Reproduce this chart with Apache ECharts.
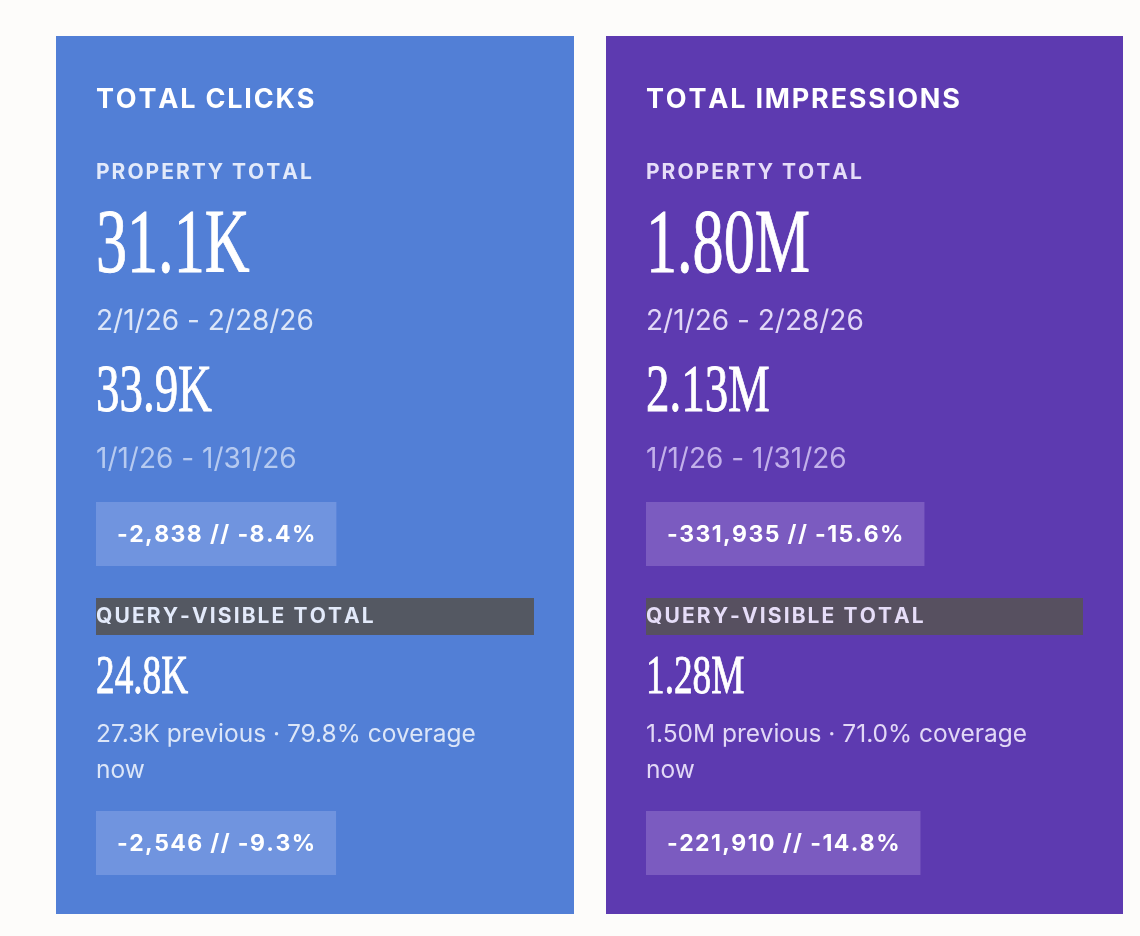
<!DOCTYPE html>
<html>
<head>
<meta charset="utf-8">
<script src="https://cdn.jsdelivr.net/npm/echarts@6/dist/echarts.min.js"></script>
<style>
  html, body { margin: 0; padding: 0; background: #fdfcfa; }
  #kpi-cards { width: 1140px; height: 936px; }
</style>
</head>
<body>
<div id="kpi-cards"></div>
<script>
// card contents, one entry per card
var cardTitles = ['TOTAL CLICKS', 'TOTAL IMPRESSIONS'];
var propertyLabel = 'PROPERTY TOTAL';
var queryLabel = 'QUERY-VISIBLE TOTAL';
var currentTotals = ['31.1K', '1.80M'];
var currentRanges = ['2/1/26 - 2/28/26', '2/1/26 - 2/28/26'];
var previousTotals = ['33.9K', '2.13M'];
var previousRanges = ['1/1/26 - 1/31/26', '1/1/26 - 1/31/26'];
var propertyDeltas = ['-2,838 // -8.4%', '-331,935 // -15.6%'];
var queryTotals = ['24.8K', '1.28M'];
var queryNotes = ['27.3K previous \u00b7 79.8% coverage now', '1.50M previous \u00b7 71.0% coverage now'];
var queryDeltas = ['-2,546 // -9.3%', '-221,910 // -14.8%'];

var themes = [
    {bg: '#527fd6', badge: '#7094df', bar: '#545862', label: '#e3eafa', soft: '#dce6f8', faded: '#b6caf0'},
    {bg: '#5d3ab0', badge: '#7b5bc0', bar: '#575060', label: '#e6ddf8', soft: '#e2d8f6', faded: '#c2b0ea'}
];

var SANS = 'Inter, "DejaVu Sans", sans-serif';
var SERIF = '"Liberation Serif", serif';

var ctx = document.createElement('canvas').getContext('2d');

// zrender has no letter-spacing, so lay the caps out char by char
function spacedChars(str, x, y, font, spacing, color){
    ctx.font = font;
    var els = [];
    var cx = 0;
    for(var i=0;i<str.length;i++){
        var ch = str.charAt(i);
        els.push({
            type: 'text', x: x + cx, y: y, silent: true,
            style: {text: ch, font: font, fill: color, textVerticalAlign: 'middle'}
        });
        cx += ctx.measureText(ch).width + spacing;
    }
    return {els: els, width: cx - spacing};
}
function spacedText(str, x, y, size, spacing, color){
    return spacedChars(str, x, y, 'bold ' + size + 'px ' + SANS, spacing, color).els;
}

function bigNumber(str, x, y, size){
    return {
        type: 'text', x: x, y: y, scaleX: 0.69, silent: true,
        style: {text: str, font: size + 'px ' + SERIF, fill: '#ffffff',
                stroke: '#ffffff', lineWidth: 0.9, textVerticalAlign: 'middle'}
    };
}

function line(str, x, y, size, color){
    return {type: 'text', x: x, y: y, silent: true,
            style: {text: str, font: size + 'px ' + SANS, fill: color, textVerticalAlign: 'middle'}};
}

// simple word wrap so the wrapped line has no leading blank
function wrapped(str, x, y, size, color, maxW, lh){
    var font = size + 'px ' + SANS;
    ctx.font = font;
    var words = str.split(' ');
    var lines = [], cur = '';
    for(var i=0;i<words.length;i++){
        var test = cur ? cur + ' ' + words[i] : words[i];
        if(cur && ctx.measureText(test).width > maxW){
            lines.push(cur);
            cur = words[i];
        }else{
            cur = test;
        }
    }
    lines.push(cur);
    return lines.map(function(l, k){ return line(l, x, y + k * lh, size, color); });
}

function badge(str, x, y, fill){
    var r = spacedChars(str, 21, 33, 'bold 23px ' + SANS, 1.4, '#ffffff');
    return {
        type: 'group', x: x, y: y,
        children: [{type: 'rect', shape: {x: 0, y: 0, width: r.width + 42, height: 64}, style: {fill: fill}, silent: true}].concat(r.els)
    };
}

var cardLeft = [56, 606];
var cardWidth = [518, 517];
var cardTop = 36, cardHeight = 878, pad = 40;

var elements = [];
for(var i=0;i<cardTitles.length;i++){
    var t = themes[i];
    var x0 = cardLeft[i] + pad;
    var inner = cardWidth[i] - pad * 2;
    elements.push({type: 'rect', shape: {x: cardLeft[i], y: cardTop, width: cardWidth[i], height: cardHeight}, style: {fill: t.bg}, silent: true});
    elements = elements.concat(spacedText(cardTitles[i], x0, 100, 27, 1.8, '#ffffff'));
    elements = elements.concat(spacedText(propertyLabel, x0, 173, 21, 2.0, t.label));
    elements.push(bigNumber(currentTotals[i], x0, 248, 90));
    elements.push(line(currentRanges[i], x0, 322, 28, t.soft));
    elements.push(bigNumber(previousTotals[i], x0, 393, 68));
    elements.push(line(previousRanges[i], x0, 460, 28, t.faded));
    elements.push(badge(propertyDeltas[i], x0, 502, t.badge));
    elements.push({type: 'rect', shape: {x: x0, y: 598, width: inner, height: 37}, style: {fill: t.bar}, silent: true});
    elements = elements.concat(spacedText(queryLabel, x0, 617, 21, 2.1, t.label));
    elements.push(bigNumber(queryTotals[i], x0, 679, 54));
    elements = elements.concat(wrapped(queryNotes[i], x0, 735, 24.5, t.soft, 420, 36));
    elements.push(badge(queryDeltas[i], x0, 811, t.badge));
}

var myChart = echarts.init(document.getElementById('kpi-cards'));
var option = {
    backgroundColor: '#fdfcfa',
    animation: false,
    graphic: {elements: elements}
};
myChart.setOption(option);
</script>
</body>
</html>
